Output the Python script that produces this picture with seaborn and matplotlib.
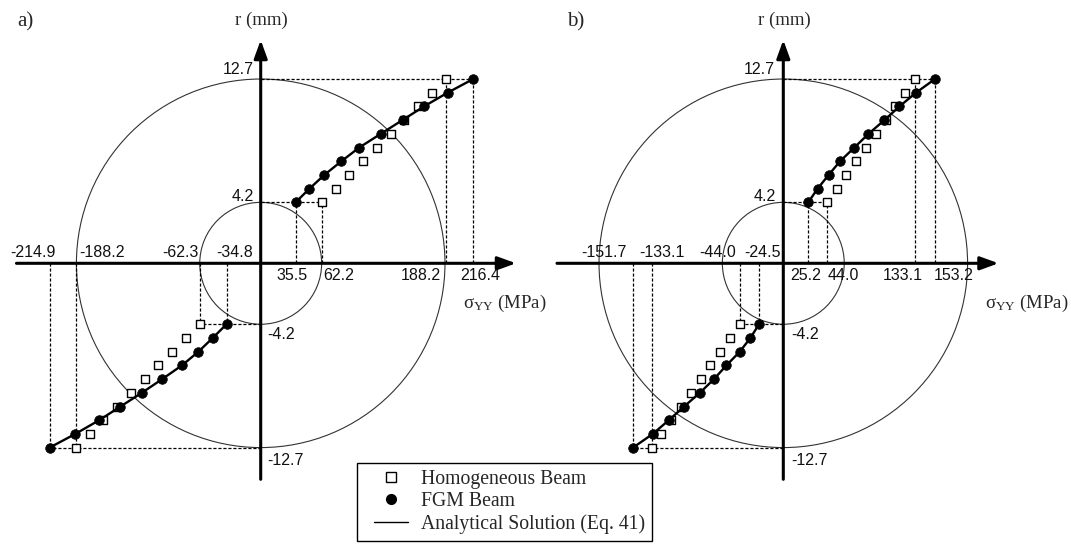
import numpy as np
import pandas as pd
import matplotlib
matplotlib.use("Agg")
import matplotlib.pyplot as plt
import seaborn as sns
from matplotlib.patches import Ellipse
from matplotlib.lines import Line2D
from matplotlib.legend_handler import HandlerLine2D

# --------------------------------------------------
# Data (r in mm, sigma_YY in MPa)
# --------------------------------------------------
r_pos = [4.2, 5.14, 6.09, 7.03, 7.98, 8.92, 9.87, 10.81, 11.76, 12.7]
r_neg = [-4.2, -5.14, -6.09, -7.03, -7.98, -8.92, -9.87, -10.81, -11.76, -12.7]

# panel a)
hom_a_pos = [62.2, 76.2, 90.2, 104.2, 118.2, 132.2, 146.2, 160.2, 174.2, 188.2]
fgm_a_pos = [35.5, 49.6, 64.8, 82.1, 100.4, 122.2, 144.4, 166.2, 190.4, 216.4]
hom_a_neg = [-62.3, -76.3, -90.3, -104.3, -118.3, -132.2, -146.2, -160.2, -174.2, -188.2]
fgm_a_neg = [-34.8, -48.8, -63.4, -80.1, -100.3, -120.9, -142.8, -164.4, -188.8, -214.9]

# panel b)
hom_b_pos = [44.0, 53.9, 63.8, 73.7, 83.6, 93.5, 103.4, 113.3, 123.2, 133.1]
fgm_b_pos = [25.2, 34.6, 45.8, 57.3, 71.8, 86.0, 102.2, 117.3, 134.1, 153.2]
hom_b_neg = [-44.0, -53.9, -63.8, -73.7, -83.6, -93.5, -103.4, -113.3, -123.2, -133.1]
fgm_b_neg = [-24.5, -33.2, -43.9, -57.4, -70.0, -84.2, -100.2, -115.6, -131.9, -151.7]

radii = [4.2, 12.7]   # beam cross-section circles (mm)

# --------------------------------------------------
# Style
# --------------------------------------------------
sns.set_theme(style="white")
plt.rcParams["font.family"] = ["Liberation Serif", "DejaVu Serif"]
plt.rcParams["mathtext.fontset"] = "custom"
plt.rcParams["mathtext.rm"] = "Liberation Serif"
SANS = ["Liberation Sans", "DejaVu Sans"]
SERIF = ["Liberation Serif", "DejaVu Serif"]

W, H = 1071, 544
fig = plt.figure(figsize=(W / 100, H / 100), dpi=100)
fig.patch.set_facecolor("white")

YS = 14.51          # px per mm
Y0 = 263.3          # pixel row of the sigma axis


def make_panel(x0_px, x1_px, origin_px, xs, hom_pos, fgm_pos, hom_neg, fgm_neg,
               x_left, x_tip, xlabels, ylabels):
    ax = fig.add_axes([x0_px / W, 0, (x1_px - x0_px) / W, 1])
    ax.set_xlim((x0_px - origin_px) / xs, (x1_px - origin_px) / xs)
    ax.set_ylim((Y0 - H) / YS, Y0 / YS)
    ax.axis("off")

    # cross-section circles
    for R in radii:
        ax.add_patch(Ellipse((0, 0), 2 * R * YS / xs, 2 * R, fill=False,
                             lw=0.8, ec="#333333", zorder=1))

    # dotted guide lines
    dkw = dict(color="black", lw=0.9, ls=(0, (2.5, 1.5)), zorder=2)
    for hom, fgm, r in [(hom_pos, fgm_pos, r_pos), (hom_neg, fgm_neg, r_neg)]:
        ax.plot([0, hom[0]], [r[0], r[0]], **dkw)
        ax.plot([0, fgm[-1]], [r[-1], r[-1]], **dkw)
        for xv, rv in [(fgm[0], r[0]), (hom[0], r[0]), (hom[-1], r[-1]), (fgm[-1], r[-1])]:
            ax.plot([xv, xv], [0, rv], **dkw)

    # axes with arrows
    akw = dict(arrowstyle="-|>,head_length=0.55,head_width=0.2", lw=2.2,
               color="black", shrinkA=0, shrinkB=0, mutation_scale=20)
    ax.annotate("", xy=(x_tip, 0), xytext=(x_left, 0), arrowprops=akw, zorder=6)
    ax.annotate("", xy=(0, (Y0 - 40) / YS), xytext=(0, (Y0 - 479.3) / YS),
                arrowprops=akw, zorder=6)

    df = pd.DataFrame({
        "sigma": hom_pos + hom_neg + fgm_pos + fgm_neg,
        "r": r_pos + r_neg + r_pos + r_neg,
        "beam": ["hom"] * 20 + ["fgm"] * 20,
        "branch": ["p"] * 10 + ["n"] * 10 + ["p"] * 10 + ["n"] * 10,
    })
    hom_df = df[df.beam == "hom"]
    fgm_df = df[df.beam == "fgm"]
    sns.scatterplot(data=hom_df, x="sigma", y="r", marker="s", s=38,
                    color="white", edgecolor="black", linewidth=1.0,
                    ax=ax, legend=False, zorder=3)
    sns.lineplot(data=fgm_df, x="sigma", y="r", units="branch", estimator=None,
                 sort=False, color="black", lw=1.7, ax=ax, legend=False, zorder=4)
    sns.scatterplot(data=fgm_df, x="sigma", y="r", marker="o", s=48,
                    color="black", edgecolor="black", linewidth=0.5,
                    ax=ax, legend=False, zorder=5)

    # value labels
    for val, ha, dx, dy in xlabels:
        ax.annotate(f"{val:.1f}", xy=(val, 0), xytext=(dx, dy), textcoords="offset pixels",
                    ha=ha, va="baseline", fontsize=11.5, family=SANS, color="#111111")
    for val, ha, dx, dy in ylabels:
        ax.annotate(f"{val:.1f}", xy=(0, val), xytext=(dx, dy), textcoords="offset pixels",
                    ha=ha, va="baseline", fontsize=11.5, family=SANS, color="#111111")
    return ax


xlab_a = [(-214.9, "center", -17, 6.3), (-188.2, "left", 3.7, 6.3),
          (-62.3, "right", -1, 6.3), (-34.8, "center", 8, 6.3),
          (35.5, "center", -4, -16.7), (62.2, "left", 1.5, -16.7),
          (188.2, "right", -4.5, -16.7), (216.4, "center", 7, -16.7)]
ylab_a = [(12.7, "right", -6.7, 5), (4.2, "right", -6.7, 1),
          (-4.2, "left", 7, -14.5), (-12.7, "left", 7, -17.4)]
xlab_b = [(-151.7, "right", -6.5, 6.3), (-133.1, "center", 10, 6.3),
          (-44.0, "right", -4, 6.3), (-24.5, "center", 3.6, 6.3),
          (25.2, "center", -3, -16.7), (44.0, "left", 1, -16.7),
          (133.1, "center", -12.4, -16.7), (153.2, "center", 18.7, -16.7)]
ylab_b = [(12.7, "right", -8.8, 5), (4.2, "right", -7, 1),
          (-4.2, "left", 8, -14.5), (-12.7, "left", 8, -17.4)]

make_panel(0, 535, 260.7, 0.982, hom_a_pos, fgm_a_pos, hom_a_neg, fgm_a_neg,
           -248.7, 260.0, xlab_a, ylab_a)
make_panel(535, 1071, 783.3, 0.99, hom_b_pos, fgm_b_pos, hom_b_neg, fgm_b_neg,
           -228.6, 217.4, xlab_b, ylab_b)

# titles / axis names
for x, s in [(17, "a)"), (567, "b)")]:
    fig.text(x / W, 1 - 22 / H, s, ha="left", va="center", fontsize=15, family=SERIF)
for x in [261.8, 784.6]:
    fig.text(x / W, 1 - 20 / H, "r (mm)", ha="center", va="center", fontsize=13.5, family=SERIF)
for x in [463, 985]:
    fig.text(x / W, 1 - 303 / H, r"$\mathregular{\sigma_{YY}}$ (MPa)", ha="left", va="center",
             fontsize=13.5, family=SERIF)

# legend
handles = [
    Line2D([], [], ls="none", marker="s", ms=6.5, mfc="white", mec="black", mew=1.0),
    Line2D([], [], ls="none", marker="o", ms=7, mfc="black", mec="black"),
    Line2D([], [], color="black", lw=1.0),
]
labels = ["Homogeneous Beam", "FGM Beam", "Analytical Solution (Eq. 41)"]
leg = fig.legend(handles, labels, loc="upper left",
                 bbox_to_anchor=(357.3 / W, 1 - 463.3 / H), borderaxespad=0,
                 prop={"family": SERIF, "size": 14.2}, frameon=True, fancybox=False,
                 framealpha=1, edgecolor="black", handlelength=2.2, handletextpad=0.68,
                 borderpad=0.35, labelspacing=0.15,
                 handler_map={Line2D: HandlerLine2D(xpad=0.51)})
leg.get_frame().set_linewidth(1.0)

fig.savefig("out.png", dpi=100)
